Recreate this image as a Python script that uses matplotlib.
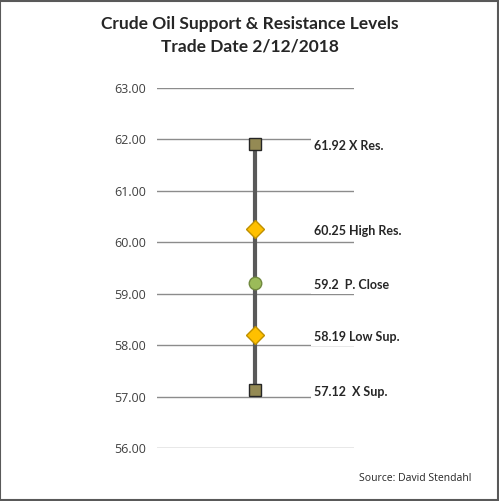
import matplotlib.pyplot as plt
from matplotlib.patches import Rectangle

levels = [61.92, 60.25, 59.2, 58.19, 57.12]
labels = ["61.92 X Res.", "60.25 High Res.", "59.2  P. Close", "58.19 Low Sup.", "57.12  X Sup."]
markers = ["s", "D", "o", "D", "s"]
face_colors = ["#948A54", "#FFC000", "#9BBB59", "#FFC000", "#948A54"]
edge_colors = ["#262626", "#BF9000", "#71893F", "#BF9000", "#262626"]
sizes = [8.5, 9.5, 9, 9.5, 8.5]
yticks = [56, 57, 58, 59, 60, 61, 62, 63]

fig = plt.figure(figsize=(4.99, 5.01), dpi=100)
ax = fig.add_axes([0.3146, 0.1058, 0.3948, 0.7186])

ax.set_xlim(-1, 1)
ax.set_ylim(56, 63)
ax.set_yticks(yticks)
ax.set_yticklabels(["%.2f" % v for v in yticks], fontsize=9, color="#404040",
                   family="Open Sans")
ax.tick_params(axis="y", length=0, pad=8)
ax.set_xticks([])
for s in ax.spines.values():
    s.set_visible(False)
ax.grid(axis="y", color="#8C8C8C", linewidth=1)
ax.set_axisbelow(True)

# vertical range line
ax.plot([0] * len(levels), levels, color="#595959", linewidth=3, zorder=2)
for lv, lab, m, fc, ec, sz in zip(levels, labels, markers, face_colors, edge_colors, sizes):
    ax.plot(0, lv, marker=m, markersize=sz, markerfacecolor=fc,
            markeredgecolor=ec, markeredgewidth=1, zorder=3)
    ax.text(0.59, lv - 0.04, lab, fontsize=9, fontweight="bold", family="Lato",
            va="center", ha="left", color="#262626", clip_on=False,
            bbox=dict(facecolor="white", edgecolor="none", pad=1.5))

fig.text(0.5, 0.968, "Crude Oil Support & Resistance Levels\nTrade Date 2/12/2018",
         ha="center", va="top", fontsize=12.5, fontweight="bold", family="Lato",
         color="#262626", linespacing=1.5)
fig.text(0.945, 0.045, "Source: David Stendahl", ha="right", va="center",
         fontsize=7.5, family="Open Sans", color="#262626")

fig.patches.append(Rectangle((0.001, 0.001), 0.997, 0.997, transform=fig.transFigure,
                             fill=False, edgecolor="#595959", linewidth=1.5))

fig.savefig("out.png", dpi=100)
